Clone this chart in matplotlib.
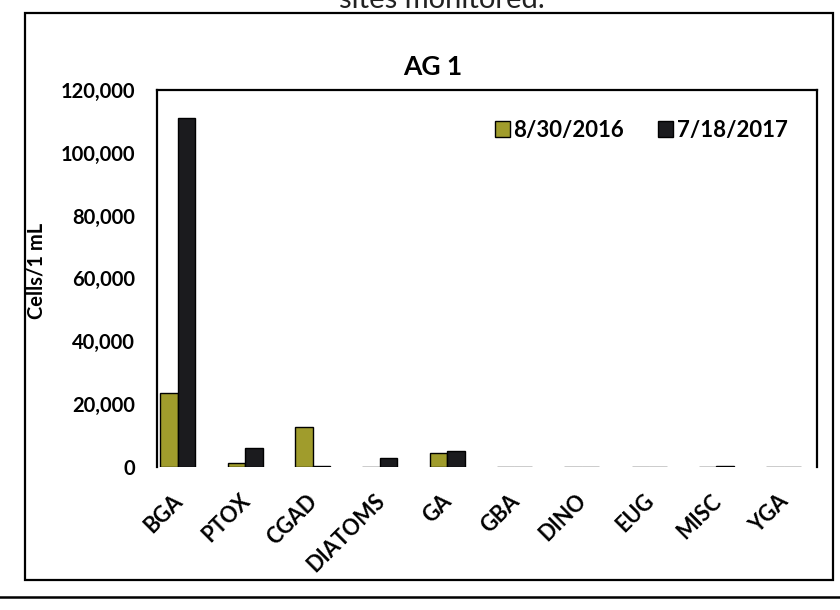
import numpy as np
import matplotlib.pyplot as plt
from matplotlib.patches import Rectangle
from matplotlib.lines import Line2D
from matplotlib.ticker import FuncFormatter
import matplotlib.transforms as mtransforms

plt.rcParams['font.family'] = ['Lato', 'DejaVu Sans']
plt.rcParams['font.weight'] = 'bold'

categories = ["BGA", "PTOX", "CGAD", "DIATOMS", "GA", "GBA", "DINO", "EUG", "MISC", "YGA"]
series_names = ["8/30/2016", "7/18/2017"]
vals_2016 = [23600, 1200, 12600, 0, 4300, 0, 0, 0, 0, 0]
vals_2017 = [111200, 5900, 300, 2600, 5000, 0, 0, 0, 300, 0]
yticks = [0, 20000, 40000, 60000, 80000, 100000, 120000]

olive = "#a09c2c"
dark = "#1b1b1e"

fig = plt.figure(figsize=(8.4, 6.1), dpi=100)
ax = fig.add_axes([0.187, 0.235, 0.786, 0.617])

x = np.arange(len(categories))
w = 0.26
ax.bar(x - w / 2, vals_2016, w, color=olive, edgecolor="black", linewidth=1.0, label=series_names[0])
ax.bar(x + w / 2, vals_2017, w, color=dark, edgecolor="black", linewidth=1.0, label=series_names[1])

ax.set_xlim(-0.31, len(categories) - 0.5)
ax.set_ylim(0, 120000)
ax.set_yticks(yticks)
ax.yaxis.set_major_formatter(FuncFormatter(lambda v, p: f"{int(v):,}"))
ax.tick_params(axis="y", length=0, pad=16, labelsize=14.5)
ax.tick_params(axis="x", length=0, pad=17)
ax.set_xticks(x)
ax.set_xticklabels(categories, rotation=45, ha="right", va="top",
                   rotation_mode="anchor", fontsize=15.5)
shift = mtransforms.ScaledTranslation(-6 / 100, 0, fig.dpi_scale_trans)
for lab in ax.get_xticklabels():
    lab.set_transform(lab.get_transform() + shift)

ax.spines["bottom"].set_visible(False)
for s in ["left", "top", "right"]:
    ax.spines[s].set_linewidth(1.6)

ax.set_ylabel("Cells/1 mL", fontsize=14.5, fontweight="bold")
ax.yaxis.set_label_coords(-0.168, 0.52)
fig.text(0.515, 0.89, "AG 1", ha="center", va="center", fontsize=19, fontweight="bold")

ax.legend(loc="upper right", bbox_to_anchor=(0.985, 0.975), ncol=2, frameon=False,
          fontsize=16, handlelength=0.7, handleheight=0.7, handletextpad=0.15,
          columnspacing=1.5)

# outer chart frame and page context
fig.patches.append(Rectangle((0.03, 0.05), 0.962, 0.928, transform=fig.transFigure,
                             fill=False, edgecolor="black", linewidth=1.6))
fig.lines.append(Line2D([0.0, 1.0], [0.021, 0.021], transform=fig.transFigure,
                        color="black", linewidth=1.8))
fig.text(0.649, 1.0, "sites monitored.", ha="right", va="center", fontsize=21,
         fontweight="normal", color="#222222")

fig.savefig("out.png", dpi=100)
